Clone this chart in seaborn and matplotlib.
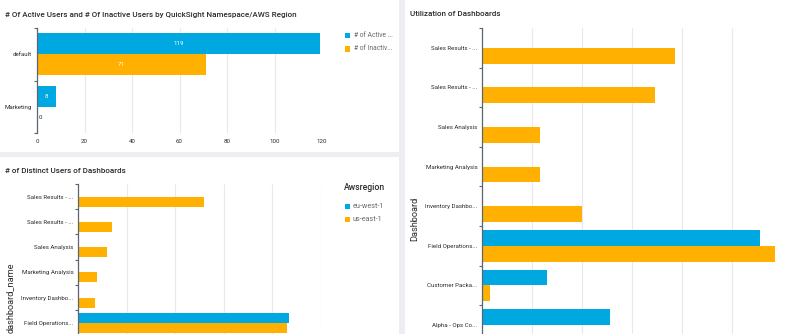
import numpy as np
import pandas as pd
import matplotlib
matplotlib.use("Agg")
import matplotlib.pyplot as plt
from matplotlib.patches import Rectangle
import seaborn as sns

# ---- data -----------------------------------------------------------------
namespaces = ["default", "Marketing"]
active_users = [119, 8]
inactive_users = [71, 0]
user_series = ["# of Active Users", "# of Inactive Users"]
user_legend_labels = ["# of Active ...", "# of Inactiv..."]

regions = ["eu-west-1", "us-east-1"]

distinct_dash_labels = ["Sales Results - ...", "Sales Results - ...", "Sales Analysis",
                        "Marketing Analysis", "Inventory Dashbo...", "Field Operations..."]
distinct_eu_west = [np.nan, np.nan, np.nan, np.nan, np.nan, 87]
distinct_us_east = [52, 14, 12, 8, 7, 86]

util_dash_labels = ["Sales Results - ...", "Sales Results - ...", "Sales Analysis",
                    "Marketing Analysis", "Inventory Dashbo...", "Field Operations...",
                    "Customer Packa...", "Alpha - Ops Co..."]
util_eu_west = [np.nan, np.nan, np.nan, np.nan, np.nan, 111, 26, 51]
util_us_east = [77, 69, 23, 23, 40, 117, 3, np.nan]

x_ticks_users = [0, 20, 40, 60, 80, 100, 120]

# ---- style ----------------------------------------------------------------
sns.set_theme(style="white")
plt.rcParams["font.family"] = ["Roboto", "DejaVu Sans"]

BLUE = "#00a8e1"
ORANGE = "#ffb000"
SPINE = "#5b6573"
GRID = "#e9e9e9"
TXT = "#2b2b2b"
LEG_TXT = "#6b6b6b"

W, H = 800, 334
fig = plt.figure(figsize=(W / 100, H / 100), dpi=100)
fig.patch.set_facecolor("#eceef1")


def box(x0, y0, x1, y1):
    return [x0 / W, 1 - y1 / H, (x1 - x0) / W, (y1 - y0) / H]


def fx(x):
    return x / W


def fy(y):
    return 1 - y / H


# white dashboard tiles
for (x0, y0, x1, y1) in [(0, 0, 399, 152), (0, 157, 399, 334), (405, 0, 800, 334)]:
    fig.add_artist(Rectangle((fx(x0), fy(y1)), (x1 - x0) / W, (y1 - y0) / H,
                             transform=fig.transFigure, facecolor="white",
                             edgecolor="none", zorder=-5))


def style_axis(ax, n, labels, xmax, step, show_xlabels):
    ax.set_facecolor("none")
    for s in ["top", "right", "bottom"]:
        ax.spines[s].set_visible(False)
    ax.spines["left"].set_color(SPINE)
    ax.spines["left"].set_linewidth(0.9)
    ax.set_xlim(0, xmax)
    ax.set_ylim(n - 0.5, -0.5)
    ax.set_xticks(np.arange(0, xmax + 0.1, step))
    ax.grid(axis="x", color=GRID, linewidth=0.8)
    ax.grid(axis="y", visible=False)
    ax.set_axisbelow(True)
    ax.set_yticks(np.arange(n))
    ax.set_yticklabels(labels)
    ax.set_yticks(np.arange(-0.5, n), minor=True)
    ax.tick_params(axis="y", which="major", length=0, pad=3.4, labelsize=4.4, labelcolor=TXT)
    ax.tick_params(axis="y", which="minor", length=2.2, width=0.8, color=SPINE, left=True)
    ax.tick_params(axis="x", length=0, pad=4.6, labelsize=4.4, labelcolor=TXT,
                   labelbottom=show_xlabels)
    ax.set_xlabel("")
    ax.set_ylabel("")


# ---- panel 1: active / inactive users by namespace -------------------------
users_df = pd.DataFrame({
    "namespace": namespaces * 2,
    "series": [user_series[0]] * len(namespaces) + [user_series[1]] * len(namespaces),
    "users": active_users + inactive_users,
})
ax1 = fig.add_axes(box(37, 28, 322, 133))
sns.barplot(data=users_df, x="users", y="namespace", hue="series", order=namespaces,
            hue_order=user_series, palette=[BLUE, ORANGE], saturation=1, orient="h",
            width=0.8, errorbar=None, linewidth=0, legend=False, ax=ax1)
style_axis(ax1, len(namespaces), namespaces, 120, 20, True)
ax1.set_xticks(x_ticks_users)
for container in ax1.containers:
    for bar in container:
        w = bar.get_width()
        yc = bar.get_y() + bar.get_height() / 2
        if w > 0:
            ax1.text(w / 2, yc, f"{w:.0f}", ha="center", va="center",
                     color="white", fontsize=4.4)
        else:
            ax1.text(0.6, yc, f"{w:.0f}", ha="left", va="center",
                     color=TXT, fontsize=4.4)

fig.text(fx(5), fy(15), "# Of Active Users and # Of Inactive Users by QuickSight Namespace/AWS Region",
         fontsize=5.8, fontweight="medium", color=TXT, va="center", ha="left")

# legend for panel 1
for i, (lab, col) in enumerate(zip(user_legend_labels, [BLUE, ORANGE])):
    yc = 35.5 + i * 13.5
    fig.add_artist(Rectangle((fx(345), fy(yc + 2.6)), 5.2 / W, 5.2 / H,
                             transform=fig.transFigure, facecolor=col, edgecolor="none"))
    fig.text(fx(353.5), fy(yc), lab, fontsize=4.9, color=LEG_TXT, va="center", ha="left")

# ---- panel 2: distinct users of dashboards --------------------------------
n2 = len(distinct_dash_labels)
slots2 = [str(i) for i in range(n2)]
distinct_df = pd.DataFrame({
    "slot": slots2 * 2,
    "region": [regions[0]] * n2 + [regions[1]] * n2,
    "users": distinct_eu_west + distinct_us_east,
}).dropna()
ax2 = fig.add_axes(box(78, 184, 321, 184 + 6 * 25.25))
sns.barplot(data=distinct_df, x="users", y="slot", hue="region", order=slots2,
            hue_order=regions, palette=[BLUE, ORANGE], saturation=1, orient="h",
            width=0.8, errorbar=None, linewidth=0, legend=False, ax=ax2)
style_axis(ax2, n2, distinct_dash_labels, 100, 20, False)

fig.text(fx(5), fy(171), "# of Distinct Users of Dashboards",
         fontsize=5.8, fontweight="medium", color=TXT, va="center", ha="left")
fig.text(fx(10), fy(298), "dashboard_name", rotation=90, fontsize=6.6,
         color=TXT, va="center", ha="center")

# legend for panel 2
fig.text(fx(343.5), fy(187), "Awsregion", fontsize=6.2, fontweight="medium",
         color=TXT, va="center", ha="left")
for i, (lab, col) in enumerate(zip(regions, [BLUE, ORANGE])):
    yc = 206.5 + i * 13
    fig.add_artist(Rectangle((fx(344.5), fy(yc + 2.6)), 5.2 / W, 5.2 / H,
                             transform=fig.transFigure, facecolor=col, edgecolor="none"))
    fig.text(fx(352.5), fy(yc), lab, fontsize=5.2, color=LEG_TXT, va="center", ha="left")

# ---- panel 3: utilization of dashboards -----------------------------------
n3 = len(util_dash_labels)
slots3 = [str(i) for i in range(n3)]
util_df = pd.DataFrame({
    "slot": slots3 * 2,
    "region": [regions[0]] * n3 + [regions[1]] * n3,
    "views": util_eu_west + util_us_east,
}).dropna()
ax3 = fig.add_axes(box(482, 28, 782, 28 + 8 * 39.6))
sns.barplot(data=util_df, x="views", y="slot", hue="region", order=slots3,
            hue_order=regions, palette=[BLUE, ORANGE], saturation=1, orient="h",
            width=0.8, errorbar=None, linewidth=0, legend=False, ax=ax3)
style_axis(ax3, n3, util_dash_labels, 120, 20, False)

fig.text(fx(410), fy(14.5), "Utilization of Dashboards",
         fontsize=5.8, fontweight="medium", color=TXT, va="center", ha="left")
fig.text(fx(415), fy(219), "Dashboard", rotation=90, fontsize=6.6,
         color=TXT, va="center", ha="center")

fig.savefig("out.png", dpi=100, facecolor=fig.get_facecolor())
